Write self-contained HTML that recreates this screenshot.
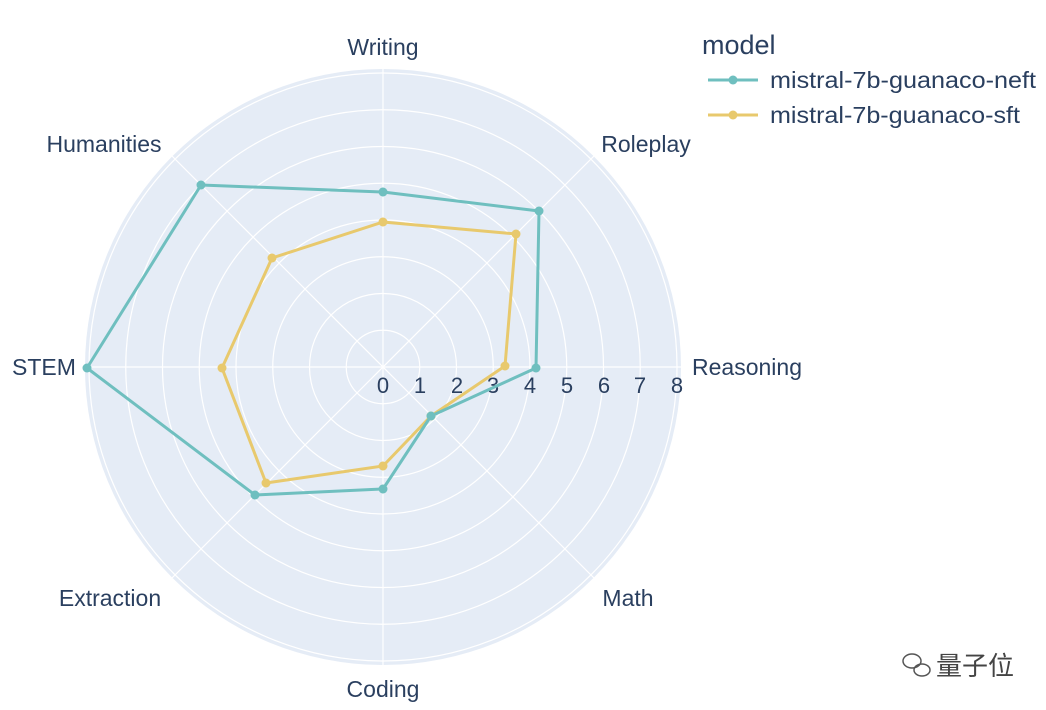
<!DOCTYPE html>
<html><head><meta charset="utf-8"><style>
html,body{margin:0;padding:0;background:#fff;}
svg{display:block;}
text{font-family:"Liberation Sans","DejaVu Sans",sans-serif;fill:#2a3f5f;}
</style></head><body>
<svg width="1046" height="710" viewBox="0 0 1046 710" xmlns="http://www.w3.org/2000/svg">
<circle cx="383" cy="367" r="298" fill="#e5ecf6"/>
<g fill="none" stroke="#fff" stroke-width="1.2">
<circle cx="383" cy="367" r="36.75"/><circle cx="383" cy="367" r="73.5"/>
<circle cx="383" cy="367" r="110.25"/><circle cx="383" cy="367" r="147"/>
<circle cx="383" cy="367" r="183.75"/><circle cx="383" cy="367" r="220.5"/>
<circle cx="383" cy="367" r="257.25"/><circle cx="383" cy="367" r="294"/>
<line x1="383" y1="69" x2="383" y2="665"/>
<line x1="85" y1="367" x2="681" y2="367"/>
<line x1="172" y1="156" x2="594" y2="578"/>
<line x1="594" y1="156" x2="172" y2="578"/>
</g>
<g font-size="23" text-anchor="middle">
<text x="383" y="55">Writing</text>
<text x="646" y="152">Roleplay</text>
<text x="747" y="375">Reasoning</text>
<text x="628" y="606">Math</text>
<text x="383" y="697">Coding</text>
<text x="110" y="606">Extraction</text>
<text x="44" y="375">STEM</text>
<text x="104" y="152">Humanities</text>
</g>
<g font-size="22" text-anchor="middle">
<text x="383" y="393">0</text><text x="420" y="393">1</text><text x="457" y="393">2</text>
<text x="493" y="393">3</text><text x="530" y="393">4</text><text x="567" y="393">5</text>
<text x="604" y="393">6</text><text x="640" y="393">7</text><text x="677" y="393">8</text>
</g>
<g stroke-width="3" fill="none" stroke-linejoin="round">
<polygon points="383,222 516,234 505,366 431,416 383,466 266,483 222,368 272,258" stroke="#e8c96d"/>
<polygon points="383,192 539,211 536,368 431,416 383,489 255,495 87,368 201,185" stroke="#6fbfbf"/>
</g>
<g fill="#e8c96d">
<circle cx="383" cy="222" r="4.5"/><circle cx="516" cy="234" r="4.5"/><circle cx="505" cy="366" r="4.5"/><circle cx="431" cy="416" r="4.5"/><circle cx="383" cy="466" r="4.5"/><circle cx="266" cy="483" r="4.5"/><circle cx="222" cy="368" r="4.5"/><circle cx="272" cy="258" r="4.5"/>
</g>
<g fill="#6fbfbf">
<circle cx="383" cy="192" r="4.5"/><circle cx="539" cy="211" r="4.5"/><circle cx="536" cy="368" r="4.5"/><circle cx="431" cy="416" r="4.5"/><circle cx="383" cy="489" r="4.5"/><circle cx="255" cy="495" r="4.5"/><circle cx="87" cy="368" r="4.5"/><circle cx="201" cy="185" r="4.5"/>
</g>
<text x="702" y="54" font-size="27">model</text>
<line x1="708" y1="80" x2="758" y2="80" stroke="#6fbfbf" stroke-width="3"/><circle cx="733" cy="80" r="4.5" fill="#6fbfbf"/>
<text x="770" y="88" font-size="23" textLength="266" lengthAdjust="spacingAndGlyphs">mistral-7b-guanaco-neft</text>
<line x1="708" y1="115" x2="758" y2="115" stroke="#e8c96d" stroke-width="3"/><circle cx="733" cy="115" r="4.5" fill="#e8c96d"/>
<text x="770" y="123" font-size="23" textLength="250" lengthAdjust="spacingAndGlyphs">mistral-7b-guanaco-sft</text>
<g fill="none" stroke="#555" stroke-width="1.5">
<ellipse cx="912" cy="661" rx="9" ry="7"/><ellipse cx="922" cy="670" rx="8" ry="6"/>
</g>
<text x="936" y="675" font-size="26" style="font-family:'Noto Sans CJK SC',sans-serif;fill:#444">量子位</text>
</svg>
</body></html>
